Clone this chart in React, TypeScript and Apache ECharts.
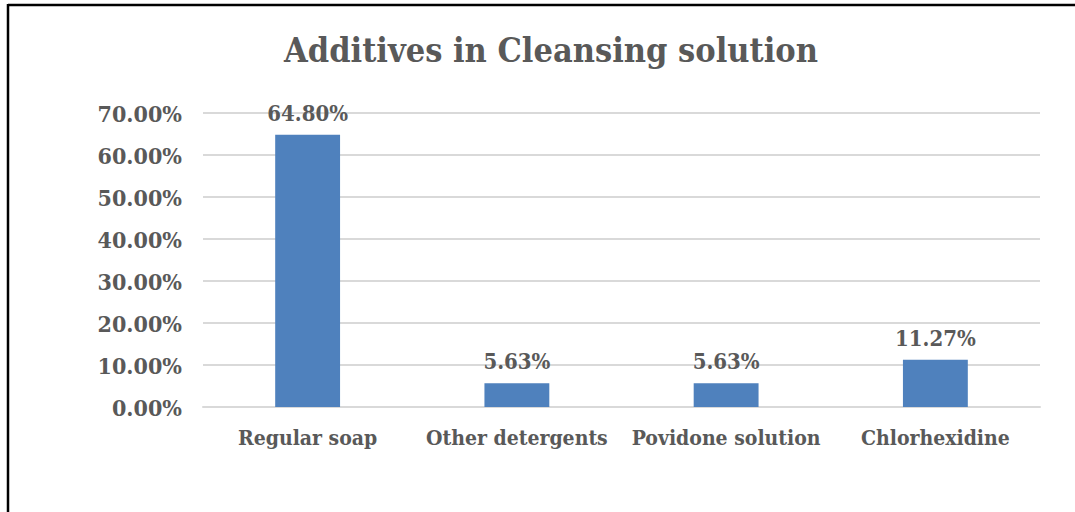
import React, { useEffect, useRef } from "react";
import * as echarts from "echarts";

const categories = ["Regular soap", "Other detergents", "Povidone solution", "Chlorhexidine"];
const values = [64.8, 5.63, 5.63, 11.27];
const titleText = "Additives in Cleansing solution";

const FONT = "'DejaVu Serif Condensed', 'DejaVu Serif', serif";
const TEXT = "#595959";

export default function App() {
  const ref = useRef<HTMLDivElement>(null);
  useEffect(() => {
    document.body.style.margin = "0";
    const chart = echarts.init(ref.current!, null, { renderer: "svg" });
    chart.setOption({
      animation: false,
      backgroundColor: "#ffffff",
      title: {
        text: titleText,
        left: 546,
        top: 28,
        textAlign: "center",
        textStyle: { fontFamily: FONT, fontWeight: "bold", fontSize: 34, color: TEXT },
      },
      grid: { left: 203, right: 35, top: 113, bottom: 105, containLabel: false },
      xAxis: {
        type: "category",
        data: categories,
        axisLine: { show: true, lineStyle: { color: "#D9D9D9", width: 2 } },
        axisTick: { show: false },
        axisLabel: { margin: 20, fontFamily: FONT, fontWeight: "bold", fontSize: 21, color: TEXT, interval: 0 },
      },
      yAxis: {
        type: "value",
        min: 0,
        max: 70,
        interval: 10,
        axisLine: { show: false },
        axisTick: { show: false },
        splitLine: { lineStyle: { color: "#D9D9D9", width: 2 } },
        axisLabel: {
          margin: 21,
          fontFamily: FONT,
          fontWeight: "bold",
          fontSize: 23,
          color: TEXT,
          formatter: (v: number) => v.toFixed(2) + "%",
        },
      },
      series: [
        {
          type: "bar",
          data: values,
          barWidth: "31%",
          itemStyle: { color: "#4F81BD" },
          label: {
            show: true,
            position: "top",
            distance: 11,
            fontFamily: FONT,
            fontWeight: "bold",
            fontSize: 22,
            color: TEXT,
            formatter: (p: any) => Number(p.value).toFixed(2) + "%",
          },
        },
      ],
      graphic: [
        { type: "line", shape: { x1: 8, y1: 5, x2: 1075, y2: 5 }, style: { stroke: "#000", lineWidth: 2.5 } },
        { type: "line", shape: { x1: 8, y1: 4, x2: 8, y2: 512 }, style: { stroke: "#000", lineWidth: 2.5 } },
      ],
    });
    return () => chart.dispose();
  }, []);
  return <div ref={ref} style={{ position: "absolute", left: 0, top: 0, width: 1075, height: 512 }} />;
}
